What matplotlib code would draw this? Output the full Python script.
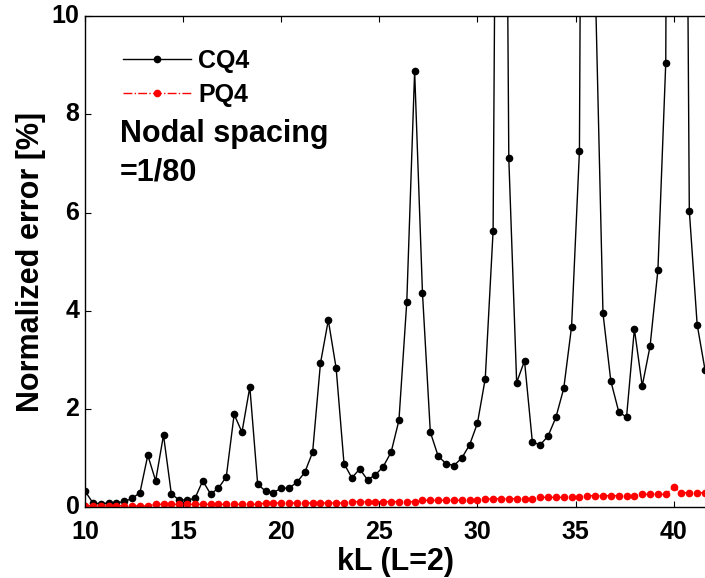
import numpy as np
import matplotlib
matplotlib.use("Agg")
import matplotlib.pyplot as plt

plt.rcParams['font.family'] = ['Liberation Sans', 'DejaVu Sans']
plt.rcParams['font.weight'] = 'bold'

# kL values, step 0.4 from 10 to 41.6
kL = [10.0, 10.4, 10.8, 11.2, 11.6, 12.0, 12.4, 12.8, 13.2, 13.6,
      14.0, 14.4, 14.8, 15.2, 15.6, 16.0, 16.4, 16.8, 17.2, 17.6,
      18.0, 18.4, 18.8, 19.2, 19.6, 20.0, 20.4, 20.8, 21.2, 21.6,
      22.0, 22.4, 22.8, 23.2, 23.6, 24.0, 24.4, 24.8, 25.2, 25.6,
      26.0, 26.4, 26.8, 27.2, 27.6, 28.0, 28.4, 28.8, 29.2, 29.6,
      30.0, 30.4, 30.8, 31.2, 31.6, 32.0, 32.4, 32.8, 33.2, 33.6,
      34.0, 34.4, 34.8, 35.2, 35.6, 36.0, 36.4, 36.8, 37.2, 37.6,
      38.0, 38.4, 38.8, 39.2, 39.6, 40.0, 40.4, 40.8, 41.2, 41.6]

cq4 = [0.33, 0.09, 0.07, 0.09, 0.09, 0.12, 0.18, 0.30, 1.06, 0.54,
       1.47, 0.27, 0.15, 0.15, 0.18, 0.54, 0.27, 0.39, 0.62, 1.89,
       1.53, 2.45, 0.47, 0.33, 0.30, 0.39, 0.39, 0.51, 0.71, 1.12,
       2.93, 3.81, 2.83, 0.89, 0.60, 0.78, 0.56, 0.66, 0.83, 1.12,
       1.77, 4.18, 8.88, 4.36, 1.53, 1.04, 0.89, 0.85, 1.00, 1.27,
       1.71, 2.62, 5.63, 30.0, 7.10, 2.54, 2.98, 1.33, 1.27, 1.45,
       1.83, 2.42, 3.68, 7.25, 40.0, 10.8, 3.95, 2.57, 1.95, 1.83,
       3.63, 2.47, 3.28, 4.83, 9.05, 50.0, 30.0, 6.04, 3.72, 2.80]

pq4 = [0.033, 0.033, 0.033, 0.033, 0.033, 0.033, 0.033, 0.025, 0.033, 0.06,
       0.06, 0.06, 0.06, 0.06, 0.06, 0.06, 0.06, 0.06, 0.06, 0.06,
       0.06, 0.06, 0.06, 0.087, 0.087, 0.087, 0.087, 0.087, 0.087, 0.087,
       0.087, 0.087, 0.087, 0.087, 0.115, 0.115, 0.115, 0.115, 0.115, 0.115,
       0.115, 0.115, 0.115, 0.142, 0.142, 0.142, 0.142, 0.142, 0.142, 0.142,
       0.142, 0.165, 0.173, 0.173, 0.173, 0.173, 0.173, 0.173, 0.203, 0.203,
       0.203, 0.203, 0.203, 0.203, 0.237, 0.237, 0.237, 0.237, 0.237, 0.237,
       0.237, 0.264, 0.264, 0.264, 0.264, 0.413, 0.298, 0.298, 0.298, 0.298]

xticks = [10, 15, 20, 25, 30, 35, 40]
yticks = [0, 2, 4, 6, 8, 10]

fig = plt.figure(figsize=(7.05, 5.78), dpi=100)
ax = fig.add_axes([0.1206, 0.1223, 0.8794, 0.8500])

ax.plot(kL, cq4, color='black', linestyle='-', linewidth=1.0,
        marker='o', markersize=4.5, label='CQ4')
ax.plot(kL, pq4, color='red', linestyle='-.', linewidth=1.0,
        marker='o', markersize=4.5, label='PQ4')

ax.set_xlim(10, 41.6)
ax.set_ylim(0, 10)
ax.set_xticks(xticks)
ax.set_yticks(yticks)
ax.tick_params(direction='in', length=4, width=0.8, top=True, right=False,
               labelsize=18)
ax.tick_params(axis='x', pad=9)
ax.tick_params(axis='y', pad=4)
for lab in ax.get_xticklabels() + ax.get_yticklabels():
    lab.set_fontweight('bold')
for lab in ax.get_yticklabels():
    lab.set_verticalalignment('center')
ax.spines['right'].set_visible(False)
for s in ['left', 'top', 'bottom']:
    ax.spines[s].set_linewidth(1.0)

ax.set_xlabel('kL (L=2)', fontsize=22, fontweight='bold', labelpad=2)
ax.set_ylabel('Normalized error [%]', fontsize=22, fontweight='bold', labelpad=4)

leg = ax.legend(loc='upper left', bbox_to_anchor=(0.025, 0.979), frameon=False,
                fontsize=18, numpoints=1, handlelength=2.72, handletextpad=0.28,
                labelspacing=0.4)
for t in leg.get_texts():
    t.set_fontweight('bold')

ax.text(0.056, 0.744, 'Nodal spacing', transform=ax.transAxes,
        fontsize=22, fontweight='bold', va='baseline', ha='left')
ax.text(0.056, 0.666, '=1/80', transform=ax.transAxes,
        fontsize=22, fontweight='bold', va='baseline', ha='left')

fig.savefig('out.png', dpi=100)
